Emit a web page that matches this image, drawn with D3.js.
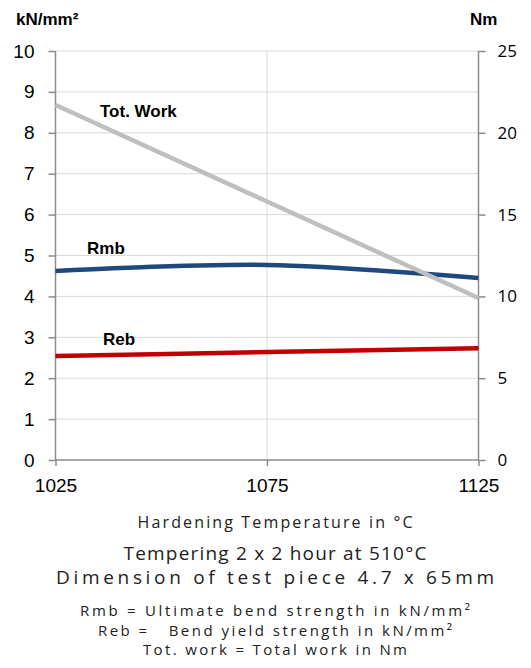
<!DOCTYPE html>
<html>
<head>
<meta charset="utf-8">
<script src="https://cdn.jsdelivr.net/npm/d3@7"></script>
<style>
  body { margin: 0; background: #fff; }
  svg { display: block; }
</style>
</head>
<body>
<svg id="chart"></svg>
<script>
// data
const temps = [1025, 1075, 1125];
const rmb = [4.62, 4.77, 4.45];      // kN/mm2, left axis
const reb = [2.54, 2.64, 2.73];      // kN/mm2, left axis
const totWork = [21.7, 15.8, 9.9];   // Nm, right axis
const leftTicks = [0, 1, 2, 3, 4, 5, 6, 7, 8, 9, 10];
const rightTicks = [0, 5, 10, 15, 20, 25];
const xTicks = [1025, 1075, 1125];

const footLines = [
    { text: "Hardening Temperature in °C", size: 16, y: 528, w: 275 },
    { text: "Tempering 2 x 2 hour at 510°C", size: 19, y: 560, w: 303 },
    { text: "Dimension of test piece 4.7 x 65mm", size: 19, y: 584, w: 438 },
    { text: "Rmb = Ultimate bend strength in kN/mm²", size: 15, y: 616, w: 390 },
    { text: "Reb =   Bend yield strength in kN/mm²", size: 15, y: 636, w: 354 },
    { text: "Tot. work = Total work in Nm", size: 15, y: 655, w: 264 }
];

const width = 531, height = 668;
const mLeft = 55.5, mRight = 478.5, mTop = 51, mBottom = 460;

const svg = d3.select("#chart")
    .attr("width", width)
    .attr("height", height)
    .style("font-family", "'Liberation Sans', Arial, sans-serif");

const x = d3.scaleLinear().domain([1025, 1125]).range([mLeft, mRight]);
const yL = d3.scaleLinear().domain([0, 10]).range([mBottom, mTop]);
const yR = d3.scaleLinear().domain([0, 25]).range([mBottom, mTop]);

// gridlines
svg.append("g")
    .selectAll("line")
    .data(leftTicks.slice(1))
    .join("line")
    .attr("x1", mLeft).attr("x2", mRight)
    .attr("y1", d => yL(d)).attr("y2", d => yL(d))
    .attr("stroke", "#d9d9d9").attr("stroke-width", 1);

svg.append("line")
    .attr("x1", x(1075)).attr("x2", x(1075))
    .attr("y1", mTop).attr("y2", mBottom)
    .attr("stroke", "#d9d9d9").attr("stroke-width", 1);

// axes
const axisL = svg.append("g")
    .attr("transform", `translate(${mLeft},0)`)
    .call(d3.axisLeft(yL).tickValues(leftTicks).tickSize(7).tickPadding(14));
axisL.selectAll("text").style("font-size", "19px").attr("fill", "#000");

const axisR = svg.append("g")
    .attr("transform", `translate(${mRight},0)`)
    .call(d3.axisRight(yR).tickValues(rightTicks).tickSize(7).tickPadding(12));
axisR.selectAll("text").style("font-size", "17px")
    .style("font-family", "'Open Sans', sans-serif").attr("fill", "#000");

const axisB = svg.append("g")
    .attr("transform", `translate(0,${mBottom})`)
    .call(d3.axisBottom(x).tickValues(xTicks).tickFormat(d3.format("d")).tickSize(6).tickPadding(13));
axisB.selectAll("text").style("font-size", "19px").attr("fill", "#000");

svg.selectAll(".domain").attr("stroke", "#8c8c8c").attr("stroke-width", 1.5);
svg.selectAll(".tick line").attr("stroke", "#8c8c8c").attr("stroke-width", 1.5);
axisL.select(".domain").attr("d", `M0,${mTop}V${mBottom}`);
axisR.select(".domain").attr("d", `M0,${mTop}V${mBottom}`);
axisB.select(".domain").attr("d", `M${mLeft},0H${mRight}`);

// series
const curve = d3.curveCatmullRom.alpha(0.5);
const lineL = d3.line().x((d, i) => x(temps[i])).y(d => yL(d)).curve(curve);
const lineR = d3.line().x((d, i) => x(temps[i])).y(d => yR(d));

svg.append("path").datum(rmb).attr("d", lineL)
    .attr("fill", "none").attr("stroke", "#1f497d").attr("stroke-width", 4.5);
svg.append("path").datum(reb).attr("d", lineL)
    .attr("fill", "none").attr("stroke", "#c00000").attr("stroke-width", 4.5);
svg.append("path").datum(totWork).attr("d", lineR)
    .attr("fill", "none").attr("stroke", "#bfbfbf").attr("stroke-width", 4.5);

// series labels
const labels = [
    { text: "Tot. Work", x: 100, y: 117 },
    { text: "Rmb", x: 87, y: 254 },
    { text: "Reb", x: 103, y: 345 }
];
svg.append("g").selectAll("text")
    .data(labels)
    .join("text")
    .attr("x", d => d.x).attr("y", d => d.y)
    .style("font-size", "17px").style("font-weight", "bold")
    .text(d => d.text);

// axis titles
svg.append("text").attr("x", 16).attr("y", 25)
    .style("font-size", "17px").style("font-weight", "bold")
    .text("kN/mm²");
svg.append("text").attr("x", 470).attr("y", 25)
    .style("font-size", "17px").style("font-weight", "bold")
    .text("Nm");

// footnote text
svg.append("g").selectAll("text")
    .data(footLines)
    .join("text")
    .attr("x", 275).attr("y", d => d.y)
    .attr("text-anchor", "middle")
    .attr("textLength", d => d.w)
    .style("white-space", "pre")
    .style("font-family", "'Open Sans', sans-serif")
    .style("font-size", d => d.size + "px")
    .style("fill", "#222")
    .text(d => d.text);
</script>
</body>
</html>
